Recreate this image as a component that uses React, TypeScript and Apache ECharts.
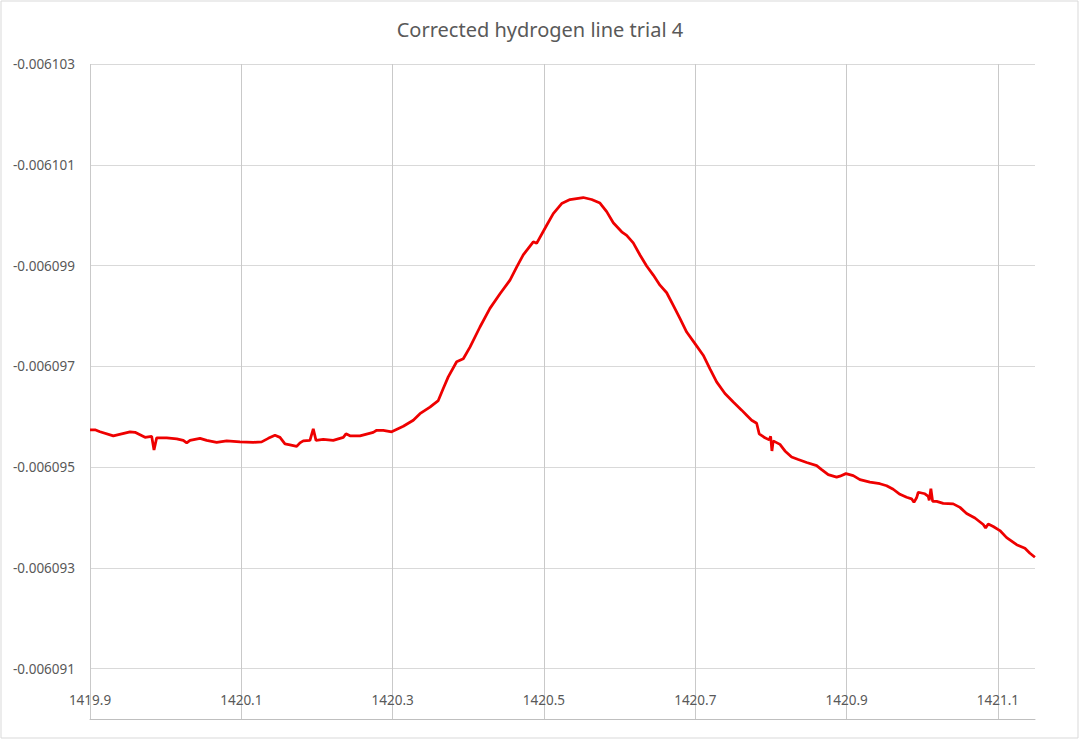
import React, { useEffect, useRef } from "react";
import * as echarts from "echarts";

const chartTitle = "Corrected hydrogen line trial 4";

const frequencies = [
  1419.9, 1419.9066, 1419.9132, 1419.9308, 1419.9529, 1419.9595, 1419.9661, 1419.9727, 1419.9815, 1419.9846,
  1419.9881, 1420.0014, 1420.0146, 1420.0233, 1420.0278, 1420.0322, 1420.0454, 1420.0542, 1420.0674, 1420.0807,
  1420.0982, 1420.1158, 1420.1269, 1420.1356, 1420.1445, 1420.1511, 1420.1577, 1420.1643, 1420.1732, 1420.1775,
  1420.1819, 1420.1907, 1420.1951, 1420.1987, 1420.2083, 1420.2215, 1420.2348, 1420.2383, 1420.2436, 1420.2568,
  1420.2744, 1420.2789, 1420.2876, 1420.2987, 1420.3141, 1420.3273, 1420.3361, 1420.3493, 1420.3603, 1420.3669,
  1420.3735, 1420.3846, 1420.3934, 1420.4022, 1420.4154, 1420.4286, 1420.4419, 1420.4551, 1420.4639, 1420.4726,
  1420.4859, 1420.4903, 1420.5036, 1420.5123, 1420.5234, 1420.5344, 1420.5519, 1420.563, 1420.574, 1420.5829,
  1420.5916, 1420.6027, 1420.6093, 1420.618, 1420.6269, 1420.6357, 1420.6445, 1420.6533, 1420.6622, 1420.6709,
  1420.6797, 1420.6886, 1420.6996, 1420.7105, 1420.7194, 1420.7282, 1420.7392, 1420.7502, 1420.7613, 1420.7679,
  1420.7745, 1420.7811, 1420.7845, 1420.7921, 1420.7977, 1420.7996, 1420.8013, 1420.803, 1420.8119, 1420.8185,
  1420.8273, 1420.8361, 1420.8472, 1420.8604, 1420.867, 1420.8757, 1420.8868, 1420.8912, 1420.8991, 1420.9088,
  1420.9176, 1420.9308, 1420.944, 1420.9529, 1420.9616, 1420.9705, 1420.9793, 1420.9859, 1420.989, 1420.9925,
  1420.9947, 1421.0035, 1421.0079, 1421.0092, 1421.0114, 1421.0137, 1421.019, 1421.0277, 1421.0409, 1421.0498,
  1421.0586, 1421.0696, 1421.0806, 1421.0837, 1421.0872, 1421.0938, 1421.1026, 1421.1115, 1421.1247, 1421.1357,
  1421.1423, 1421.1489,
];

const intensities = [
  -0.00609574, -0.00609574, -0.0060957, -0.00609562, -0.0060957, -0.00609569, -0.00609564, -0.00609559, -0.00609561, -0.00609534,
  -0.00609558, -0.00609558, -0.00609556, -0.00609553, -0.00609548, -0.00609553, -0.00609557, -0.00609553, -0.00609549, -0.00609552,
  -0.0060955, -0.00609549, -0.0060955, -0.00609557, -0.00609563, -0.00609559, -0.00609546, -0.00609544, -0.00609541, -0.00609548,
  -0.00609552, -0.00609553, -0.00609576, -0.00609553, -0.00609555, -0.00609553, -0.00609559, -0.00609566, -0.00609562, -0.00609562,
  -0.00609569, -0.00609573, -0.00609573, -0.0060957, -0.00609581, -0.00609593, -0.00609606, -0.00609619, -0.00609632, -0.00609656,
  -0.00609679, -0.00609709, -0.00609715, -0.00609738, -0.00609778, -0.00609815, -0.00609844, -0.00609871, -0.00609897, -0.00609921,
  -0.00609947, -0.00609944, -0.0060998, -0.00610003, -0.00610023, -0.00610031, -0.00610035, -0.00610031, -0.00610024, -0.00610007,
  -0.00609985, -0.00609967, -0.0060996, -0.00609945, -0.00609921, -0.00609899, -0.00609881, -0.00609861, -0.00609846, -0.00609821,
  -0.00609795, -0.00609768, -0.00609745, -0.00609722, -0.00609695, -0.00609669, -0.00609646, -0.00609629, -0.00609613, -0.00609603,
  -0.00609593, -0.00609587, -0.00609566, -0.00609558, -0.00609554, -0.00609561, -0.00609532, -0.00609552, -0.00609545, -0.00609532,
  -0.0060952, -0.00609515, -0.00609509, -0.00609503, -0.00609495, -0.00609485, -0.0060948, -0.00609482, -0.00609487, -0.00609483,
  -0.00609475, -0.0060947, -0.00609467, -0.00609463, -0.00609456, -0.00609446, -0.0060944, -0.00609437, -0.0060943, -0.00609439,
  -0.0060945, -0.00609447, -0.00609442, -0.00609434, -0.00609457, -0.00609432, -0.00609432, -0.00609428, -0.00609427, -0.0060942,
  -0.00609408, -0.00609399, -0.00609386, -0.00609379, -0.00609387, -0.00609382, -0.00609374, -0.0060936, -0.00609346, -0.00609339,
  -0.00609329, -0.00609321,
];

const xMin = 1419.9;
const xMax = 1421.149;
const xStep = 0.2;
const yMin = -0.006103;
const yMax = -0.00609;
const yStep = 0.000002;

export default function App() {
  const ref = useRef<HTMLDivElement>(null);

  useEffect(() => {
    document.body.style.margin = "0";
    if (!ref.current) return;
    const chart = echarts.init(ref.current, null, { renderer: "svg" });
    const data = frequencies.map((f, i) => [f, intensities[i]]);
    const onStep = (v: number, start: number, step: number) => {
      const k = (v - start) / step;
      return Math.abs(k - Math.round(k)) < 1e-3;
    };
    chart.setOption({
      animation: false,
      backgroundColor: "#ffffff",
      title: {
        text: chartTitle,
        left: "center",
        top: 14,
        textStyle: {
          color: "#595959",
          fontSize: 20,
          fontWeight: "normal",
          fontFamily: "Noto Sans",
        },
      },
      graphic: [
        {
          type: "rect",
          shape: { x: 1, y: 1, width: 1077, height: 737 },
          style: { fill: "none", stroke: "#d9d9d9", lineWidth: 1 },
          silent: true,
        },
      ],
      grid: { left: 90, right: 45, top: 64, bottom: 20 },
      xAxis: {
        type: "value",
        min: xMin,
        max: xMax,
        interval: xStep,
        axisLine: { show: true, lineStyle: { color: "#bfbfbf", width: 1 } },
        axisTick: { show: false },
        axisLabel: {
          inside: true,
          margin: 12,
          color: "#595959",
          fontSize: 13.5,
          fontFamily: "Noto Sans",
          showMaxLabel: false,
          formatter: (v: number) => (onStep(v, xMin, xStep) ? (Math.round(v * 10) / 10).toFixed(1) : ""),
        },
        splitLine: {
          show: true,
          showMaxLine: false,
          lineStyle: { color: "#c9c9c9", width: 1 },
        },
      },
      yAxis: {
        type: "value",
        inverse: true,
        min: yMin,
        max: yMax,
        interval: yStep,
        axisLine: { show: false },
        axisTick: { show: false },
        axisLabel: {
          margin: 15,
          color: "#595959",
          fontSize: 13.5,
          fontFamily: "Noto Sans",
          formatter: (v: number) => (onStep(v, yMin, yStep) ? v.toFixed(6) : ""),
        },
        splitLine: { show: true, lineStyle: { color: "#d9d9d9", width: 1 } },
      },
      series: [
        {
          type: "line",
          data,
          showSymbol: false,
          symbol: "none",
          lineStyle: { color: "#ee0000", width: 2.75 },
          itemStyle: { color: "#ee0000" },
        },
      ],
    });
    return () => chart.dispose();
  }, []);

  return <div ref={ref} style={{ width: 1080, height: 739 }} />;
}
